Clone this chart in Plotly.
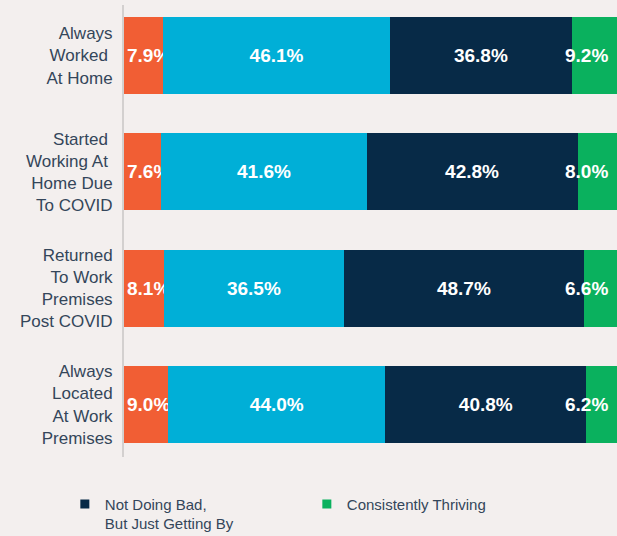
import plotly.graph_objects as go

categories = ["Always<br>Worked <br>At Home", "Started <br>Working At <br>Home Due<br>To COVID",
              "Returned<br>To Work<br>Premises<br>Post COVID", "Always<br>Located<br>At Work<br>Premises"]
series_names = ["Struggling", "Doing Okay", "Not Doing Bad,<br>But Just Getting By", "Consistently Thriving"]
struggling = [7.9, 7.6, 8.1, 9.0]
doing_okay = [46.1, 41.6, 36.5, 44.0]
getting_by = [36.8, 42.8, 48.7, 40.8]
thriving = [9.2, 8.0, 6.6, 6.2]
colors = ["#F15E34", "#00AFD7", "#072A47", "#0AB15E"]
legend_shown = [False, False, True, True]
text_anchor = ["start", "middle", "middle", None]

values = [struggling, doing_okay, getting_by, thriving]
label_font = dict(family="Liberation Sans, Arial", size=19, color="white", weight="bold")

fig = go.Figure()
for name, vals, col, anc in zip(series_names, values, colors, text_anchor):
    if anc is not None:
        kw = dict(text=[f"{v:.1f}%" for v in vals], textposition="inside", textangle=0,
                  insidetextanchor=anc, constraintext="none", textfont=label_font)
    else:
        kw = dict(textposition="none")
    fig.add_trace(go.Bar(
        y=categories, x=vals, orientation="h", name=name,
        marker=dict(color=col, line=dict(width=0)),
        cliponaxis=False, showlegend=False, hoverinfo="skip", **kw,
    ))

# labels of the last (narrow) segment, right-aligned near the bar end
totals = [a + b + c + d for a, b, c, d in zip(*values)]
for cat, v, tot in zip(categories, thriving, totals):
    fig.add_annotation(x=tot, y=cat, text=f"{v:.1f}%", showarrow=False,
                       xanchor="right", xshift=-7, font=label_font)

for name, col, show in zip(series_names, colors, legend_shown):
    if show:
        fig.add_trace(go.Scatter(
            x=[None], y=[None], mode="markers", name=name,
            marker=dict(symbol="square", size=9, color=col), showlegend=True,
        ))

fig.update_layout(
    barmode="stack", bargap=0.34,
    width=617, height=536,
    margin=dict(l=124, r=0, t=5, b=79, autoexpand=False),
    paper_bgcolor="#F3EFEE", plot_bgcolor="#F3EFEE",
    font=dict(family="Liberation Sans, Arial", color="#34465A"),
    xaxis=dict(range=[0, 100], visible=False, fixedrange=True),
    yaxis=dict(range=[3.451, -0.434], showline=True, linecolor="#D3D0CF", linewidth=2,
               showgrid=False, zeroline=False, ticks="", ticklabelstandoff=6,
               tickfont=dict(size=17, color="#34465A"), fixedrange=True),
    legend=dict(orientation="h", x=-0.12, xanchor="left", y=-0.068, yanchor="top",
                traceorder="normal",
                entrywidth=197, entrywidthmode="pixels", valign="top",
                font=dict(size=15, color="#34465A"), bgcolor="rgba(0,0,0,0)"),
)

fig.write_html("out.html", config={"displayModeBar": False},
               post_script="document.body.style.margin='0';document.body.style.overflow='hidden';")
